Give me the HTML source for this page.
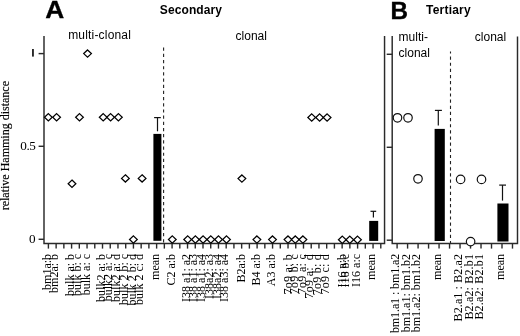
<!DOCTYPE html>
<html><head><meta charset="utf-8"><style>
html,body{margin:0;padding:0;background:#fff;width:520px;height:336px;overflow:hidden}
svg{display:block;filter:grayscale(1)}
</style></head><body>
<svg width="520" height="336" viewBox="0 0 520 336">
<rect width="520" height="336" fill="#fff"/>
<path d="M44.0 36.0 V243.4 H384.55 V36.0" fill="none" stroke="#2a2a2a" stroke-width="1.45"/>
<line x1="38.6" y1="53.6" x2="44.0" y2="53.6" stroke="#2a2a2a" stroke-width="1.45"/>
<line x1="38.6" y1="146.3" x2="44.0" y2="146.3" stroke="#2a2a2a" stroke-width="1.45"/>
<line x1="38.6" y1="239.3" x2="44.0" y2="239.3" stroke="#2a2a2a" stroke-width="1.45"/>
<line x1="48.40" y1="243.4" x2="48.40" y2="248.6" stroke="#2a2a2a" stroke-width="1.4"/>
<line x1="56.13" y1="243.4" x2="56.13" y2="248.6" stroke="#2a2a2a" stroke-width="1.4"/>
<line x1="63.86" y1="243.4" x2="63.86" y2="248.6" stroke="#2a2a2a" stroke-width="1.4"/>
<line x1="71.59" y1="243.4" x2="71.59" y2="248.6" stroke="#2a2a2a" stroke-width="1.4"/>
<line x1="79.32" y1="243.4" x2="79.32" y2="248.6" stroke="#2a2a2a" stroke-width="1.4"/>
<line x1="87.05" y1="243.4" x2="87.05" y2="248.6" stroke="#2a2a2a" stroke-width="1.4"/>
<line x1="94.78" y1="243.4" x2="94.78" y2="248.6" stroke="#2a2a2a" stroke-width="1.4"/>
<line x1="102.51" y1="243.4" x2="102.51" y2="248.6" stroke="#2a2a2a" stroke-width="1.4"/>
<line x1="110.24" y1="243.4" x2="110.24" y2="248.6" stroke="#2a2a2a" stroke-width="1.4"/>
<line x1="117.97" y1="243.4" x2="117.97" y2="248.6" stroke="#2a2a2a" stroke-width="1.4"/>
<line x1="125.70" y1="243.4" x2="125.70" y2="248.6" stroke="#2a2a2a" stroke-width="1.4"/>
<line x1="133.43" y1="243.4" x2="133.43" y2="248.6" stroke="#2a2a2a" stroke-width="1.4"/>
<line x1="141.16" y1="243.4" x2="141.16" y2="248.6" stroke="#2a2a2a" stroke-width="1.4"/>
<line x1="148.89" y1="243.4" x2="148.89" y2="248.6" stroke="#2a2a2a" stroke-width="1.4"/>
<line x1="156.62" y1="243.4" x2="156.62" y2="248.6" stroke="#2a2a2a" stroke-width="1.4"/>
<line x1="164.35" y1="243.4" x2="164.35" y2="248.6" stroke="#2a2a2a" stroke-width="1.4"/>
<line x1="172.08" y1="243.4" x2="172.08" y2="248.6" stroke="#2a2a2a" stroke-width="1.4"/>
<line x1="179.81" y1="243.4" x2="179.81" y2="248.6" stroke="#2a2a2a" stroke-width="1.4"/>
<line x1="187.54" y1="243.4" x2="187.54" y2="248.6" stroke="#2a2a2a" stroke-width="1.4"/>
<line x1="195.27" y1="243.4" x2="195.27" y2="248.6" stroke="#2a2a2a" stroke-width="1.4"/>
<line x1="203.00" y1="243.4" x2="203.00" y2="248.6" stroke="#2a2a2a" stroke-width="1.4"/>
<line x1="210.73" y1="243.4" x2="210.73" y2="248.6" stroke="#2a2a2a" stroke-width="1.4"/>
<line x1="218.46" y1="243.4" x2="218.46" y2="248.6" stroke="#2a2a2a" stroke-width="1.4"/>
<line x1="226.19" y1="243.4" x2="226.19" y2="248.6" stroke="#2a2a2a" stroke-width="1.4"/>
<line x1="233.92" y1="243.4" x2="233.92" y2="248.6" stroke="#2a2a2a" stroke-width="1.4"/>
<line x1="241.65" y1="243.4" x2="241.65" y2="248.6" stroke="#2a2a2a" stroke-width="1.4"/>
<line x1="249.38" y1="243.4" x2="249.38" y2="248.6" stroke="#2a2a2a" stroke-width="1.4"/>
<line x1="257.11" y1="243.4" x2="257.11" y2="248.6" stroke="#2a2a2a" stroke-width="1.4"/>
<line x1="264.84" y1="243.4" x2="264.84" y2="248.6" stroke="#2a2a2a" stroke-width="1.4"/>
<line x1="272.57" y1="243.4" x2="272.57" y2="248.6" stroke="#2a2a2a" stroke-width="1.4"/>
<line x1="280.30" y1="243.4" x2="280.30" y2="248.6" stroke="#2a2a2a" stroke-width="1.4"/>
<line x1="288.03" y1="243.4" x2="288.03" y2="248.6" stroke="#2a2a2a" stroke-width="1.4"/>
<line x1="295.76" y1="243.4" x2="295.76" y2="248.6" stroke="#2a2a2a" stroke-width="1.4"/>
<line x1="303.49" y1="243.4" x2="303.49" y2="248.6" stroke="#2a2a2a" stroke-width="1.4"/>
<line x1="311.22" y1="243.4" x2="311.22" y2="248.6" stroke="#2a2a2a" stroke-width="1.4"/>
<line x1="318.95" y1="243.4" x2="318.95" y2="248.6" stroke="#2a2a2a" stroke-width="1.4"/>
<line x1="326.68" y1="243.4" x2="326.68" y2="248.6" stroke="#2a2a2a" stroke-width="1.4"/>
<line x1="334.41" y1="243.4" x2="334.41" y2="248.6" stroke="#2a2a2a" stroke-width="1.4"/>
<line x1="342.14" y1="243.4" x2="342.14" y2="248.6" stroke="#2a2a2a" stroke-width="1.4"/>
<line x1="349.87" y1="243.4" x2="349.87" y2="248.6" stroke="#2a2a2a" stroke-width="1.4"/>
<line x1="357.60" y1="243.4" x2="357.60" y2="248.6" stroke="#2a2a2a" stroke-width="1.4"/>
<line x1="365.33" y1="243.4" x2="365.33" y2="248.6" stroke="#2a2a2a" stroke-width="1.4"/>
<line x1="373.06" y1="243.4" x2="373.06" y2="248.6" stroke="#2a2a2a" stroke-width="1.4"/>
<line x1="380.79" y1="243.4" x2="380.79" y2="248.6" stroke="#2a2a2a" stroke-width="1.4"/>
<line x1="163.6" y1="47.6" x2="163.6" y2="243.4" stroke="#222" stroke-width="1.1" stroke-dasharray="3.2 2.98"/>
<path d="M392.2 36.0 V243.4 H517.5 V36.4" fill="none" stroke="#2a2a2a" stroke-width="1.45"/>
<line x1="386.7" y1="54.3" x2="392.2" y2="54.3" stroke="#2a2a2a" stroke-width="1.45"/>
<line x1="386.7" y1="147.3" x2="392.2" y2="147.3" stroke="#2a2a2a" stroke-width="1.45"/>
<line x1="386.7" y1="240.2" x2="392.2" y2="240.2" stroke="#2a2a2a" stroke-width="1.45"/>
<line x1="397.10" y1="243.4" x2="397.10" y2="248.6" stroke="#2a2a2a" stroke-width="1.4"/>
<line x1="407.59" y1="243.4" x2="407.59" y2="248.6" stroke="#2a2a2a" stroke-width="1.4"/>
<line x1="418.08" y1="243.4" x2="418.08" y2="248.6" stroke="#2a2a2a" stroke-width="1.4"/>
<line x1="428.57" y1="243.4" x2="428.57" y2="248.6" stroke="#2a2a2a" stroke-width="1.4"/>
<line x1="439.06" y1="243.4" x2="439.06" y2="248.6" stroke="#2a2a2a" stroke-width="1.4"/>
<line x1="449.55" y1="243.4" x2="449.55" y2="248.6" stroke="#2a2a2a" stroke-width="1.4"/>
<line x1="460.04" y1="243.4" x2="460.04" y2="248.6" stroke="#2a2a2a" stroke-width="1.4"/>
<line x1="470.53" y1="243.4" x2="470.53" y2="248.6" stroke="#2a2a2a" stroke-width="1.4"/>
<line x1="481.02" y1="243.4" x2="481.02" y2="248.6" stroke="#2a2a2a" stroke-width="1.4"/>
<line x1="491.51" y1="243.4" x2="491.51" y2="248.6" stroke="#2a2a2a" stroke-width="1.4"/>
<line x1="502.00" y1="243.4" x2="502.00" y2="248.6" stroke="#2a2a2a" stroke-width="1.4"/>
<line x1="512.49" y1="243.4" x2="512.49" y2="248.6" stroke="#2a2a2a" stroke-width="1.4"/>
<line x1="450.5" y1="51.6" x2="450.5" y2="243.4" stroke="#222" stroke-width="1.1" stroke-dasharray="3.2 2.95" stroke-dashoffset="1.25"/>
<rect x="153.40" y="133.9" width="8.0" height="106.90" fill="#000"/>
<line x1="154.1" y1="117.6" x2="160.8" y2="117.6" stroke="#111" stroke-width="1.2"/>
<line x1="157.5" y1="117.6" x2="157.5" y2="131.3" stroke="#111" stroke-width="1.2"/>
<rect x="369.20" y="220.9" width="9.0" height="20.00" fill="#000"/>
<line x1="370.5" y1="211.3" x2="376.2" y2="211.3" stroke="#111" stroke-width="1.2"/>
<line x1="373.4" y1="211.3" x2="373.4" y2="217.6" stroke="#111" stroke-width="1.2"/>
<rect x="434.60" y="128.9" width="10.2" height="112.10" fill="#000"/>
<line x1="434.9" y1="110.4" x2="441.9" y2="110.4" stroke="#111" stroke-width="1.2"/>
<line x1="438.3" y1="110.4" x2="438.3" y2="125.6" stroke="#111" stroke-width="1.2"/>
<rect x="497.40" y="203.5" width="11.1" height="38.00" fill="#000"/>
<line x1="499.2" y1="185.1" x2="506.0" y2="185.1" stroke="#111" stroke-width="1.2"/>
<line x1="502.5" y1="185.1" x2="502.5" y2="200.6" stroke="#111" stroke-width="1.2"/>
<path d="M48.35 113.65 L52.20 117.30 L48.35 120.95 L44.50 117.30 Z" fill="#fff" stroke="#000" stroke-width="1.25"/>
<path d="M56.60 113.65 L60.45 117.30 L56.60 120.95 L52.75 117.30 Z" fill="#fff" stroke="#000" stroke-width="1.25"/>
<path d="M72.00 180.05 L75.85 183.70 L72.00 187.35 L68.15 183.70 Z" fill="#fff" stroke="#000" stroke-width="1.25"/>
<path d="M79.50 113.65 L83.35 117.30 L79.50 120.95 L75.65 117.30 Z" fill="#fff" stroke="#000" stroke-width="1.25"/>
<path d="M87.55 49.95 L91.40 53.60 L87.55 57.25 L83.70 53.60 Z" fill="#fff" stroke="#000" stroke-width="1.25"/>
<path d="M103.20 113.65 L107.05 117.30 L103.20 120.95 L99.35 117.30 Z" fill="#fff" stroke="#000" stroke-width="1.25"/>
<path d="M110.60 113.65 L114.45 117.30 L110.60 120.95 L106.75 117.30 Z" fill="#fff" stroke="#000" stroke-width="1.25"/>
<path d="M118.40 113.65 L122.25 117.30 L118.40 120.95 L114.55 117.30 Z" fill="#fff" stroke="#000" stroke-width="1.25"/>
<path d="M125.40 174.75 L129.25 178.40 L125.40 182.05 L121.55 178.40 Z" fill="#fff" stroke="#000" stroke-width="1.25"/>
<path d="M133.40 235.85 L137.25 239.50 L133.40 243.15 L129.55 239.50 Z" fill="#fff" stroke="#000" stroke-width="1.25"/>
<path d="M142.10 174.75 L145.95 178.40 L142.10 182.05 L138.25 178.40 Z" fill="#fff" stroke="#000" stroke-width="1.25"/>
<path d="M172.30 235.85 L176.15 239.50 L172.30 243.15 L168.45 239.50 Z" fill="#fff" stroke="#000" stroke-width="1.25"/>
<path d="M187.70 235.85 L191.55 239.50 L187.70 243.15 L183.85 239.50 Z" fill="#fff" stroke="#000" stroke-width="1.25"/>
<path d="M195.40 235.85 L199.25 239.50 L195.40 243.15 L191.55 239.50 Z" fill="#fff" stroke="#000" stroke-width="1.25"/>
<path d="M203.10 235.85 L206.95 239.50 L203.10 243.15 L199.25 239.50 Z" fill="#fff" stroke="#000" stroke-width="1.25"/>
<path d="M210.80 235.85 L214.65 239.50 L210.80 243.15 L206.95 239.50 Z" fill="#fff" stroke="#000" stroke-width="1.25"/>
<path d="M218.50 235.85 L222.35 239.50 L218.50 243.15 L214.65 239.50 Z" fill="#fff" stroke="#000" stroke-width="1.25"/>
<path d="M226.50 235.85 L230.35 239.50 L226.50 243.15 L222.65 239.50 Z" fill="#fff" stroke="#000" stroke-width="1.25"/>
<path d="M241.90 174.95 L245.75 178.60 L241.90 182.25 L238.05 178.60 Z" fill="#fff" stroke="#000" stroke-width="1.25"/>
<path d="M256.90 235.95 L260.75 239.60 L256.90 243.25 L253.05 239.60 Z" fill="#fff" stroke="#000" stroke-width="1.25"/>
<path d="M272.50 235.95 L276.35 239.60 L272.50 243.25 L268.65 239.60 Z" fill="#fff" stroke="#000" stroke-width="1.25"/>
<path d="M288.00 235.95 L291.85 239.60 L288.00 243.25 L284.15 239.60 Z" fill="#fff" stroke="#000" stroke-width="1.25"/>
<path d="M295.30 235.95 L299.15 239.60 L295.30 243.25 L291.45 239.60 Z" fill="#fff" stroke="#000" stroke-width="1.25"/>
<path d="M302.90 235.95 L306.75 239.60 L302.90 243.25 L299.05 239.60 Z" fill="#fff" stroke="#000" stroke-width="1.25"/>
<path d="M311.70 113.85 L315.55 117.50 L311.70 121.15 L307.85 117.50 Z" fill="#fff" stroke="#000" stroke-width="1.25"/>
<path d="M319.60 113.85 L323.45 117.50 L319.60 121.15 L315.75 117.50 Z" fill="#fff" stroke="#000" stroke-width="1.25"/>
<path d="M327.10 113.85 L330.95 117.50 L327.10 121.15 L323.25 117.50 Z" fill="#fff" stroke="#000" stroke-width="1.25"/>
<path d="M342.30 236.15 L346.15 239.80 L342.30 243.45 L338.45 239.80 Z" fill="#fff" stroke="#000" stroke-width="1.25"/>
<path d="M349.80 236.15 L353.65 239.80 L349.80 243.45 L345.95 239.80 Z" fill="#fff" stroke="#000" stroke-width="1.25"/>
<path d="M357.50 236.15 L361.35 239.80 L357.50 243.45 L353.65 239.80 Z" fill="#fff" stroke="#000" stroke-width="1.25"/>
<circle cx="397.50" cy="117.80" r="4.25" fill="#fff" stroke="#111" stroke-width="1.2"/>
<circle cx="408.00" cy="117.80" r="4.25" fill="#fff" stroke="#111" stroke-width="1.2"/>
<circle cx="418.00" cy="178.80" r="4.25" fill="#fff" stroke="#111" stroke-width="1.2"/>
<circle cx="460.60" cy="179.40" r="4.25" fill="#fff" stroke="#111" stroke-width="1.2"/>
<circle cx="470.60" cy="241.60" r="4.25" fill="#fff" stroke="#111" stroke-width="1.2"/>
<circle cx="481.50" cy="179.40" r="4.25" fill="#fff" stroke="#111" stroke-width="1.2"/>
<text transform="translate(45.3 18.1) scale(1.12 1)" font-family="'Liberation Sans', sans-serif" font-weight="bold" font-size="23.5" stroke="#000" stroke-width="0.3">A</text>
<text x="390.6" y="19.0" font-family="'Liberation Sans', sans-serif" font-weight="bold" font-size="24.2" stroke="#000" stroke-width="0.4">B</text>
<text x="159.8" y="13.9" font-family="'Liberation Sans', sans-serif" font-weight="bold" font-size="12" letter-spacing="0.1">Secondary</text>
<text x="426.0" y="14.4" font-family="'Liberation Sans', sans-serif" font-weight="bold" font-size="12" letter-spacing="0.22">Tertiary</text>
<text x="68.2" y="39.4" font-family="'Liberation Sans', sans-serif" font-size="12" letter-spacing="0.18">multi-clonal</text>
<text x="235.6" y="40.0" font-family="'Liberation Sans', sans-serif" font-size="12">clonal</text>
<text x="398.6" y="40.7" font-family="'Liberation Sans', sans-serif" font-size="12">multi-</text>
<text x="398.6" y="57.0" font-family="'Liberation Sans', sans-serif" font-size="12">clonal</text>
<text x="474.8" y="41.2" font-family="'Liberation Sans', sans-serif" font-size="12">clonal</text>
<rect x="32.1" y="49.0" width="1.7" height="7.6" fill="#111"/>
<text x="35.6" y="149.9" font-family="'Liberation Serif', serif" font-size="13.2" text-anchor="end" letter-spacing="-0.35">0.5</text>
<text x="35.6" y="242.9" font-family="'Liberation Serif', serif" font-size="13.2" text-anchor="end">0</text>
<text transform="translate(8.7 210.3) rotate(-90)" font-family="'Liberation Serif', serif" font-size="12" stroke="#000" stroke-width="0.15">relative Hamming distance</text>
<text transform="translate(50.50 253.9) rotate(-90)" font-family="'Liberation Serif', serif" font-size="12" text-anchor="end" >bm1a:b</text>
<text transform="translate(58.23 253.9) rotate(-90)" font-family="'Liberation Serif', serif" font-size="12" text-anchor="end" >bm2a: b</text>
<text transform="translate(73.69 253.9) rotate(-90)" font-family="'Liberation Serif', serif" font-size="12" text-anchor="end" >bulk a: b</text>
<text transform="translate(80.82 253.9) rotate(-90)" font-family="'Liberation Serif', serif" font-size="12" text-anchor="end" >bulk b: c</text>
<text transform="translate(90.35 253.9) rotate(-90)" font-family="'Liberation Serif', serif" font-size="12" text-anchor="end" >bulk a: c</text>
<text transform="translate(104.61 253.9) rotate(-90)" font-family="'Liberation Serif', serif" font-size="12" text-anchor="end" >bulk2 a: b</text>
<text transform="translate(112.34 253.9) rotate(-90)" font-family="'Liberation Serif', serif" font-size="12" text-anchor="end" >bulk2 a: c</text>
<text transform="translate(120.07 253.9) rotate(-90)" font-family="'Liberation Serif', serif" font-size="12" text-anchor="end" >bulk2 a: d</text>
<text transform="translate(127.80 253.9) rotate(-90)" font-family="'Liberation Serif', serif" font-size="12" text-anchor="end" >bulk 2 b: c</text>
<text transform="translate(135.53 253.9) rotate(-90)" font-family="'Liberation Serif', serif" font-size="12" text-anchor="end" >bulk 2 b: d</text>
<text transform="translate(143.26 253.9) rotate(-90)" font-family="'Liberation Serif', serif" font-size="12" text-anchor="end" >bulk 2 c: d</text>
<text transform="translate(158.72 253.9) rotate(-90)" font-family="'Liberation Serif', serif" font-size="12" text-anchor="end" >mean</text>
<text transform="translate(174.88 253.9) rotate(-90)" font-family="'Liberation Serif', serif" font-size="12" text-anchor="end" >C2 a:b</text>
<text transform="translate(189.64 253.9) rotate(-90)" font-family="'Liberation Serif', serif" font-size="12" text-anchor="end" >I38 a1: a2</text>
<text transform="translate(197.37 253.9) rotate(-90)" font-family="'Liberation Serif', serif" font-size="12" text-anchor="end" >I38 a1: a3</text>
<text transform="translate(205.10 253.9) rotate(-90)" font-family="'Liberation Serif', serif" font-size="12" text-anchor="end" >I38 a1: a4</text>
<text transform="translate(212.83 253.9) rotate(-90)" font-family="'Liberation Serif', serif" font-size="12" text-anchor="end" >I38a2: a3</text>
<text transform="translate(220.56 253.9) rotate(-90)" font-family="'Liberation Serif', serif" font-size="12" text-anchor="end" >I38a2: a4</text>
<text transform="translate(228.29 253.9) rotate(-90)" font-family="'Liberation Serif', serif" font-size="12" text-anchor="end" >I38 a3: a4</text>
<text transform="translate(244.75 253.9) rotate(-90)" font-family="'Liberation Serif', serif" font-size="12" text-anchor="end" >B2a:b</text>
<text transform="translate(259.91 253.9) rotate(-90)" font-family="'Liberation Serif', serif" font-size="12" text-anchor="end" >B4 a:b</text>
<text transform="translate(274.67 253.9) rotate(-90)" font-family="'Liberation Serif', serif" font-size="12" text-anchor="end" >A3 a:b</text>
<text transform="translate(291.63 253.9) rotate(-90)" font-family="'Liberation Serif', serif" font-size="12" text-anchor="end"  letter-spacing="0.25">7o9 a: b</text>
<text transform="translate(297.86 253.9) rotate(-90)" font-family="'Liberation Serif', serif" font-size="12" text-anchor="end"  letter-spacing="0.2">7o9 b: c</text>
<text transform="translate(305.59 253.9) rotate(-90)" font-family="'Liberation Serif', serif" font-size="12" text-anchor="end"  letter-spacing="0.3">7o9 a: c</text>
<text transform="translate(313.32 253.9) rotate(-90)" font-family="'Liberation Serif', serif" font-size="12" text-anchor="end"  letter-spacing="0.35">7o9 a:&#160; d</text>
<text transform="translate(321.05 253.9) rotate(-90)" font-family="'Liberation Serif', serif" font-size="12" text-anchor="end"  letter-spacing="0.25">7o9 b: d</text>
<text transform="translate(328.78 253.9) rotate(-90)" font-family="'Liberation Serif', serif" font-size="12" text-anchor="end"  letter-spacing="0.25">7o9 c: d</text>
<text transform="translate(345.84 253.9) rotate(-90)" font-family="'Liberation Serif', serif" font-size="12" text-anchor="end" >I16 a:b</text>
<text transform="translate(349.37 253.9) rotate(-90)" font-family="'Liberation Serif', serif" font-size="12" text-anchor="end" >I16 b:c</text>
<text transform="translate(359.70 253.9) rotate(-90)" font-family="'Liberation Serif', serif" font-size="12" text-anchor="end" >I16 a:c</text>
<text transform="translate(375.16 253.9) rotate(-90)" font-family="'Liberation Serif', serif" font-size="12" text-anchor="end" >mean</text>
<text transform="translate(399.20 253.9) rotate(-90)" font-family="'Liberation Serif', serif" font-size="12" text-anchor="end"  letter-spacing="-0.1">bm1.a1 : bm1.a2</text>
<text transform="translate(409.69 253.9) rotate(-90)" font-family="'Liberation Serif', serif" font-size="12" text-anchor="end" >bm1.a1: bm1.b2</text>
<text transform="translate(420.18 253.9) rotate(-90)" font-family="'Liberation Serif', serif" font-size="12" text-anchor="end" >bm1.a2: bm1.b2</text>
<text transform="translate(441.16 253.9) rotate(-90)" font-family="'Liberation Serif', serif" font-size="12" text-anchor="end" >mean</text>
<text transform="translate(462.14 253.9) rotate(-90)" font-family="'Liberation Serif', serif" font-size="12" text-anchor="end"  letter-spacing="0.12">B2.a1 : B2.a2</text>
<text transform="translate(472.63 253.9) rotate(-90)" font-family="'Liberation Serif', serif" font-size="12" text-anchor="end"  letter-spacing="0.17">B2.a2: B2.b1</text>
<text transform="translate(483.12 253.9) rotate(-90)" font-family="'Liberation Serif', serif" font-size="12" text-anchor="end"  letter-spacing="0.17">B2.a2: B2.b1</text>
<text transform="translate(504.10 253.9) rotate(-90)" font-family="'Liberation Serif', serif" font-size="12" text-anchor="end" >mean</text>
</svg>
</body></html>
